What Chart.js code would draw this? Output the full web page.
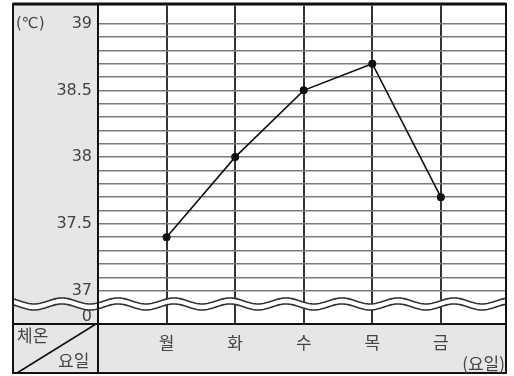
<!DOCTYPE html>
<html><head><meta charset="utf-8">
<script src="https://cdn.jsdelivr.net/npm/chart.js@4/dist/chart.umd.min.js"></script>
<style>html,body{margin:0;padding:0;background:#fff}#w{width:514px;height:376px}</style>
</head><body><div id="w"><canvas id="c"></canvas></div>
<script>
const days = ['월', '화', '수', '목', '금'];
const temps = [37.4, 38.0, 38.5, 38.7, 37.7];
const yLabelValues = [37, 37.5, 38, 38.5, 39];
const zeroLabel = '0';
const zeroValue = 36.8;
const breakValue = 36.9;
const unitY = '(℃)';
const unitX = '(요일)';
const cornerTop = '체온';
const cornerBottom = '요일';

const FONT = "'DejaVu Sans', 'Noto Sans CJK KR', sans-serif";
const KFONT = "'Noto Sans CJK KR', sans-serif";
const TXT = '#444';

const frame = {
  id: 'frame',
  beforeDraw(chart) {
    const {ctx, chartArea: a} = chart;
    ctx.save();
    ctx.fillStyle = '#e6e6e6';
    ctx.fillRect(13, 4, 494, 370);
    ctx.fillStyle = '#fff';
    ctx.fillRect(a.left, a.top, a.right - a.left, a.bottom - a.top);
    ctx.restore();
  },
  afterDraw(chart) {
    const {ctx, chartArea: a, scales} = chart;
    const y = scales.y;
    ctx.save();
    const yc = y.getPixelForValue(breakValue);
    const L = 13, R = a.right;
    const f = (x) => 3 * Math.sin((x - 20) / 56 * 2 * Math.PI);
    const wave = (off) => {
      ctx.beginPath();
      for (let x = L; x <= R; x += 1) {
        const yy = yc + off + f(x);
        if (x === L) ctx.moveTo(x, yy); else ctx.lineTo(x, yy);
      }
    };
    ctx.beginPath();
    for (let x = L; x <= R; x++) { const yy = yc - 3 + f(x); x === L ? ctx.moveTo(x, yy) : ctx.lineTo(x, yy); }
    for (let x = R; x >= L; x--) { ctx.lineTo(x, yc + 3 + f(x)); }
    ctx.closePath();
    ctx.fillStyle = '#fff';
    ctx.fill();
    ctx.strokeStyle = '#333';
    ctx.lineWidth = 1.6;
    wave(-3); ctx.stroke();
    wave(3); ctx.stroke();
    ctx.strokeStyle = '#111';
    ctx.lineWidth = 2;
    ctx.strokeRect(13, 4, a.right - 13, 369);
    ctx.lineWidth = 3;
    ctx.beginPath(); ctx.moveTo(13, 4); ctx.lineTo(a.right, 4); ctx.stroke();
    ctx.lineWidth = 2;
    ctx.beginPath(); ctx.moveTo(a.left, 4); ctx.lineTo(a.left, 373); ctx.stroke();
    ctx.beginPath(); ctx.moveTo(13, a.bottom); ctx.lineTo(a.right, a.bottom); ctx.stroke();
    ctx.lineWidth = 1.5;
    ctx.beginPath(); ctx.moveTo(a.left - 2, a.bottom); ctx.lineTo(17, 373); ctx.stroke();
    ctx.fillStyle = TXT;
    ctx.textBaseline = 'middle';
    ctx.textAlign = 'left';
    ctx.font = '15px ' + FONT;
    ctx.fillText(unitY, 16, y.getPixelForValue(39));
    ctx.font = '17px ' + KFONT;
    ctx.fillText(cornerTop, 17, 336);
    ctx.fillText(cornerBottom, 58, 361);
    ctx.textAlign = 'right';
    ctx.fillText(unitX, a.right - 1, 364);
    ctx.restore();
  }
};

const noPad = (s) => { s.paddingTop = 0; s.paddingBottom = 0; s.paddingLeft = 0; s.paddingRight = 0; };

new Chart(document.getElementById('c'), {
  type: 'line',
  data: {
    datasets: [{
      data: temps.map((v, i) => ({x: i + 1, y: v})),
      borderColor: '#111',
      backgroundColor: '#111',
      borderWidth: 1.6,
      pointRadius: 3.2,
      pointBackgroundColor: '#111',
      tension: 0
    }]
  },
  options: {
    responsive: true,
    maintainAspectRatio: false,
    animation: false,
    events: [],
    layout: {padding: {left: 13, top: 4, right: 8, bottom: 3}},
    plugins: {legend: {display: false}, tooltip: {enabled: false}},
    scales: {
      x: {
        type: 'linear',
        min: 0,
        max: 5.95,
        afterBuildTicks(s) { s.ticks = [0, 1, 2, 3, 4, 5].map(v => ({value: v})); },
        afterFit(s) { s.height = 49; noPad(s); },
        ticks: {
          padding: 8,
          color: TXT,
          font: {family: KFONT, size: 17},
          maxRotation: 0,
          autoSkip: false,
          callback: (v) => days[v - 1] || ''
        },
        grid: {color: '#333', lineWidth: 2, drawTicks: false},
        border: {display: false}
      },
      y: {
        type: 'linear',
        min: 36.75,
        max: 39.135,
        afterBuildTicks(s) {
          const t = [{value: zeroValue}];
          for (let k = 370; k <= 390; k++) t.push({value: k / 10});
          s.ticks = t;
        },
        afterFit(s) { s.width = 85; noPad(s); },
        ticks: {
          padding: 6,
          color: TXT,
          font: {family: FONT, size: 16},
          autoSkip: false,
          callback: (v) => {
            if (Math.abs(v - zeroValue) < 1e-6) return zeroLabel;
            const f = yLabelValues.find(l => Math.abs(l - v) < 1e-6);
            return f !== undefined ? String(f) : '';
          }
        },
        grid: {
          color: (c) => Math.abs(c.tick.value - zeroValue) < 1e-6 ? 'rgba(0,0,0,0)' : '#7a7a7a',
          lineWidth: 1.5,
          drawTicks: false
        },
        border: {display: false}
      }
    }
  },
  plugins: [frame]
});
</script></body></html>
